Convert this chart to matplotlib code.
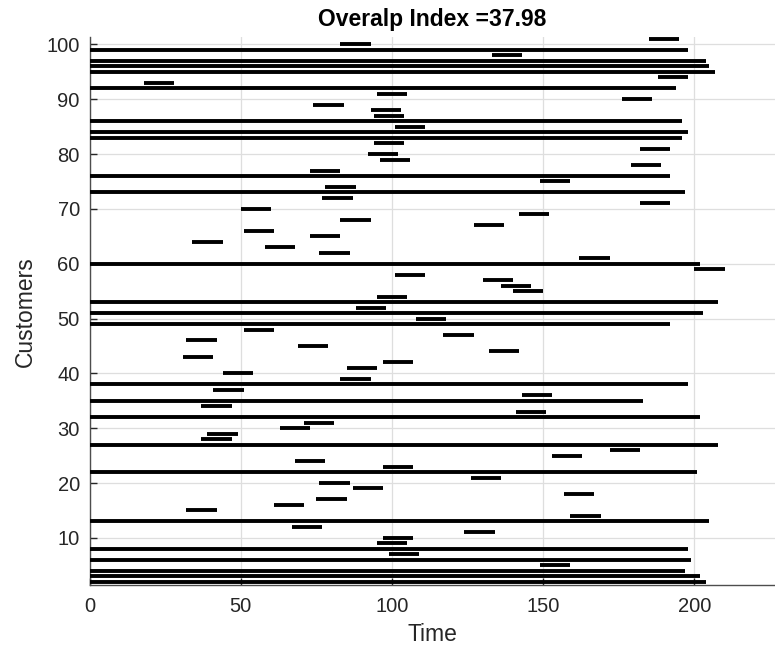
import matplotlib
matplotlib.use('Agg')
import matplotlib.pyplot as plt

# customer id, start and end time of each visit
customers = list(range(101, 1, -1))
start_times = [185, 83, 0, 133, 0, 0, 0, 188, 18, 0,
               95, 176, 74, 93, 94, 0, 101, 0, 0, 94,
               182, 92, 96, 179, 73, 0, 149, 78, 0, 77,
               182, 50, 142, 83, 127, 51, 73, 34, 58, 76,
               162, 0, 200, 101, 130, 136, 140, 95, 0, 88,
               0, 108, 0, 51, 117, 32, 69, 132, 31, 97,
               85, 44, 83, 0, 41, 143, 0, 37, 141, 0,
               71, 63, 39, 37, 0, 172, 153, 68, 97, 0,
               126, 76, 87, 157, 75, 61, 32, 159, 0, 67,
               124, 97, 95, 0, 99, 0, 149, 0, 0, 0]
end_times = [195, 93, 198, 143, 204, 205, 207, 198, 28, 194,
             105, 186, 84, 103, 104, 196, 111, 198, 196, 104,
             192, 102, 106, 189, 83, 192, 159, 88, 197, 87,
             192, 60, 152, 93, 137, 61, 83, 44, 68, 86,
             172, 202, 210, 111, 140, 146, 150, 105, 208, 98,
             203, 118, 192, 61, 127, 42, 79, 142, 41, 107,
             95, 54, 93, 198, 51, 153, 183, 47, 151, 202,
             81, 73, 49, 47, 208, 182, 163, 78, 107, 201,
             136, 86, 97, 167, 85, 71, 42, 169, 205, 77,
             134, 107, 105, 198, 109, 199, 159, 197, 202, 204]
overlap_index = 37.98

plt.rcParams['font.family'] = ['Liberation Sans', 'DejaVu Sans']

fig = plt.figure(figsize=(7.75, 6.52), dpi=100)
ax = fig.add_axes([0.1155, 0.1028, 0.8845, 0.84])

ax.hlines(customers, start_times, end_times, colors='black', linewidth=2.8,
          capstyle='butt', zorder=3)

ax.set_xlim(0, 226.7)
ax.set_ylim(1.4, 101.3)
ax.set_xticks([0, 50, 100, 150, 200])
ax.set_yticks(range(10, 101, 10))
ax.grid(True, color='#dedede', linewidth=0.9)
ax.set_axisbelow(True)

for s in ['top', 'right']:
    ax.spines[s].set_visible(False)
for s in ['left', 'bottom']:
    ax.spines[s].set_color('#4d4d4d')
    ax.spines[s].set_linewidth(1.0)

ax.tick_params(axis='both', direction='in', length=5, width=1,
               color='#262626', labelsize=14.5, labelcolor='#262626')
ax.tick_params(axis='x', pad=9)
ax.tick_params(axis='y', pad=7)

ax.set_xlabel('Time', fontsize=16.5, color='#262626', labelpad=5)
ax.set_ylabel('Customers', fontsize=16.5, color='#262626', labelpad=7)
ax.set_title('Overalp Index =' + str(overlap_index), fontsize=16.5, fontweight='bold',
             pad=8)

fig.savefig('out.png', dpi=100)
